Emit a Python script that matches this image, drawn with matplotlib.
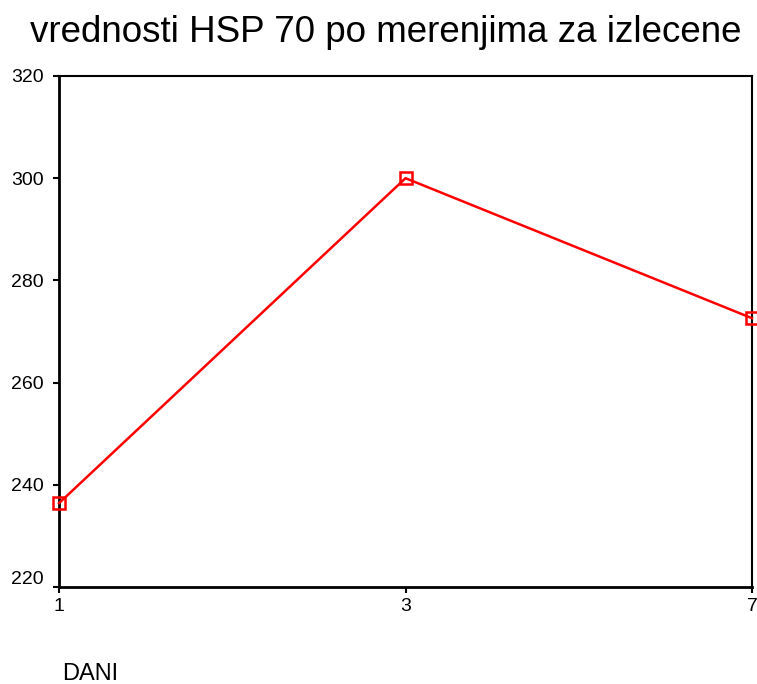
import matplotlib
matplotlib.use("Agg")
import matplotlib.pyplot as plt
import matplotlib.transforms as mtransforms

plt.rcParams["font.family"] = ["Liberation Sans", "DejaVu Sans"]

days = ["1", "3", "7"]
hsp70 = [236.4, 300.0, 272.6]
y_ticks = [220, 240, 260, 280, 300, 320]

W, H = 757, 684
fig = plt.figure(figsize=(W / 100, H / 100), dpi=100)
ax = fig.add_axes([59 / W, 1 - 587 / H, (752 - 59) / W, (587 - 76) / H])

x = list(range(len(days)))
ax.plot(x, hsp70, color="#ff0000", lw=1.8, marker="s", ms=9,
        mfc="none", mec="#ff0000", mew=1.8, clip_on=False, zorder=3)

ax.set_xlim(0, len(days) - 1)
ax.set_ylim(220, 320)
ax.set_xticks(x)
ax.set_xticklabels(days)
ax.set_yticks(y_ticks)
ax.tick_params(direction="out", length=4, width=1.5, labelsize=14)
ax.tick_params(axis="y", pad=7)
ax.tick_params(axis="x", pad=4)
ax.spines["left"].set_linewidth(2)
ax.spines["bottom"].set_linewidth(2)
ax.spines["top"].set_linewidth(1.5)
ax.spines["right"].set_linewidth(1.5)

# lowest y label sits a bit above its tick in the original
lbl = ax.get_yticklabels()[0]
lbl.set_transform(lbl.get_transform() +
                  mtransforms.ScaledTranslation(0, 9 / 100, fig.dpi_scale_trans))

fig.text(386 / W, 1 - 42 / H, "vrednosti HSP 70 po merenjima za izlecene",
         ha="center", va="baseline", fontsize=26.5)
fig.text(62 / W, 1 - 663 / H, "DANI", ha="left", va="top", fontsize=17)

fig.savefig("out.png", dpi=100)
